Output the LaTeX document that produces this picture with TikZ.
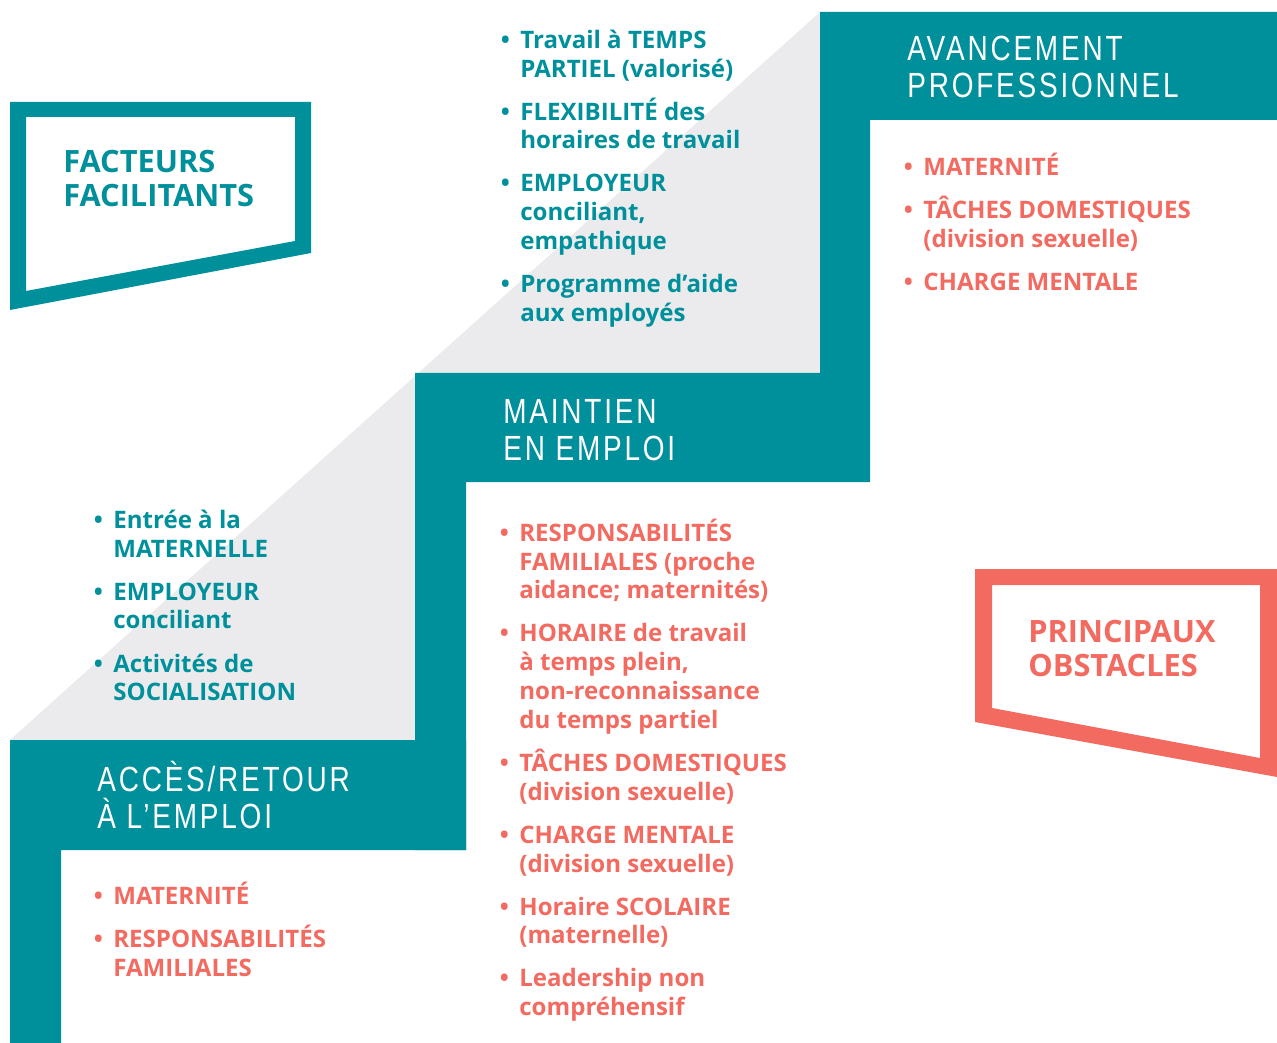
\documentclass[tikz,border=0pt]{standalone}
\usepackage{fontspec}
\setmainfont{Open Sans}
\newfontfamily\stepfont[FakeStretch=0.8,LetterSpace=8]{Liberation Sans}
\usetikzlibrary{positioning}
\definecolor{sarcelle}{HTML}{00909C}
\definecolor{corail}{HTML}{F26A60}
\definecolor{grispale}{HTML}{EBEBED}
\newcommand{\puce}{\llap{\textbullet\hspace{6pt}}}
\newcommand{\premier}{\rule{0pt}{14pt}\puce}
\newcommand{\haut}[1]{\rule{0pt}{#1}}
\tikzset{
    itemlist/.style={anchor=north west,yshift=14pt,inner sep=0pt,align=left,
        font=\bfseries\fontsize{13.7}{16.39}\selectfont},
    steptitle/.style={anchor=north west,yshift=20pt,inner sep=0pt,align=left,
        text=white,font=\stepfont\fontsize{19.9}{21.3}\selectfont},
    frametitle/.style={anchor=north west,yshift=18pt,inner sep=0pt,align=left,
        font=\bfseries\fontsize{17.5}{19.6}\selectfont}
}
\begin{document}
\begin{tikzpicture}[x=0.02cm,y=-0.02cm]
    \useasboundingbox (0,0) rectangle (1277,1043);

    % staircase
    \fill[grispale] (10,740) -- (820,12) -- (820,373) -- (415,373) -- (415,740) -- cycle;
    \fill[sarcelle] (820,12) -- (1277,12) -- (1277,120) -- (870,120) -- (870,482) -- (820,482) -- cycle;
    \fill[sarcelle] (415,373) -- (820,373) -- (820,482) -- (466,482) -- (466,850) -- (415,850) -- cycle;
    \fill[sarcelle] (10,740) -- (466,740) -- (466,850) -- (61,850) -- (61,1043) -- (10,1043) -- cycle;

    % frames
    \fill[sarcelle,even odd rule] (10,102) -- (311,102) -- (311,253) -- (10,310) -- cycle
        (26,117) -- (295,117) -- (295,241) -- (26,291) -- cycle;
    \fill[corail,even odd rule] (975,569) -- (1277,569) -- (1277,777) -- (975,722) -- cycle
        (992,585) -- (1260,585) -- (1260,758) -- (992,708) -- cycle;

    \node[frametitle,text=sarcelle] (facteurs) at (63,172) {\haut{18pt}FACTEURS\\FACILITANTS};
    \node[frametitle,text=corail] (obstacles) at (1028,642) {\haut{18pt}PRINCIPAUX\\OBSTACLES};

    \node[steptitle] (avancement) at (907,60) {\haut{20pt}AVANCEMENT\\PROFESSIONNEL};
    \node[steptitle] (maintien) at (503,423) {\haut{20pt}MAINTIEN\\EN EMPLOI};
    \node[steptitle] (acces) at (97,791) {\haut{20pt}ACCÈS/RETOUR\\À L’EMPLOI};

    \node[itemlist,text=sarcelle] (fac-avancement) at (520,48) {%
        \premier Travail à TEMPS\\PARTIEL (valorisé)\\[8.1pt]
        \puce FLEXIBILITÉ des\\horaires de travail\\[8.1pt]
        \puce EMPLOYEUR\\conciliant,\\empathique\\[8.1pt]
        \puce Programme d’aide\\aux employés};
    \node[itemlist,text=sarcelle] (fac-acces) at (113,528) {%
        \premier Entrée à la\\MATERNELLE\\[8.1pt]
        \puce EMPLOYEUR\\conciliant\\[8.1pt]
        \puce Activités de\\SOCIALISATION};

    \node[itemlist,text=corail] (obs-avancement) at (923,175) {%
        \premier MATERNITÉ\\[8.1pt]
        \puce TÂCHES DOMESTIQUES\\(division sexuelle)\\[8.1pt]
        \puce CHARGE MENTALE};
    \node[itemlist,text=corail] (obs-maintien) at (519,541) {%
        \premier RESPONSABILITÉS\\FAMILIALES (proche\\aidance; maternités)\\[8.1pt]
        \puce HORAIRE de travail\\à temps plein,\\non-reconnaissance\\du temps partiel\\[8.1pt]
        \puce TÂCHES DOMESTIQUES\\(division sexuelle)\\[8.1pt]
        \puce CHARGE MENTALE\\(division sexuelle)\\[8.1pt]
        \puce Horaire SCOLAIRE\\(maternelle)\\[8.1pt]
        \puce Leadership non\\compréhensif};
    \node[itemlist,text=corail] (obs-acces) at (113,904) {%
        \premier MATERNITÉ\\[8.1pt]
        \puce RESPONSABILITÉS\\FAMILIALES};
\end{tikzpicture}
\end{document}
